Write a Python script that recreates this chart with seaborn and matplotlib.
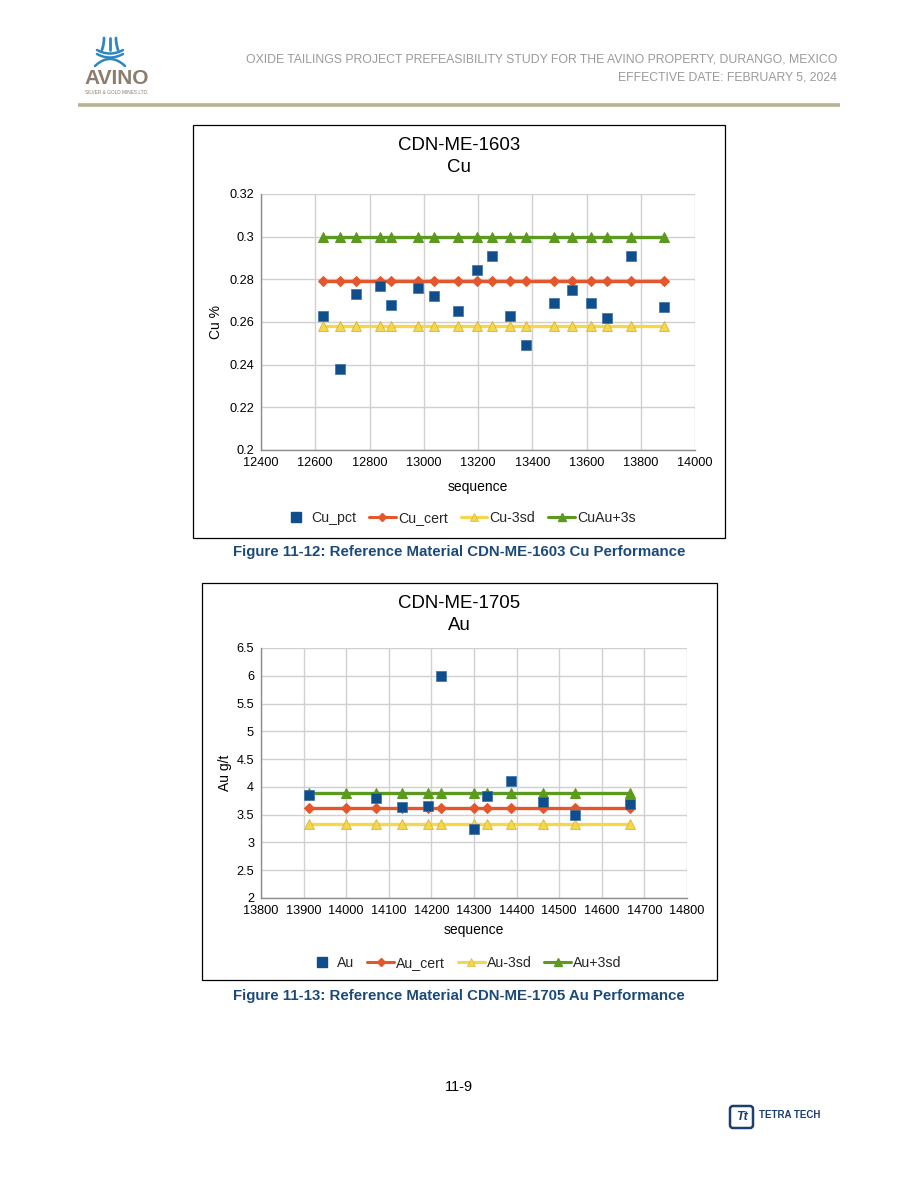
import numpy as np
import pandas as pd
import matplotlib
matplotlib.use("Agg")
import matplotlib.pyplot as plt
import seaborn as sns
from matplotlib.lines import Line2D
from matplotlib.patches import Rectangle, FancyBboxPatch

# ---------------- data ----------------
cu_seq = [12629, 12690, 12751, 12837, 12881, 12977, 13037, 13127, 13197,
          13253, 13318, 13377, 13479, 13548, 13617, 13677, 13765, 13884]
cu_pct = [0.263, 0.238, 0.273, 0.277, 0.268, 0.276, 0.272, 0.265, 0.2845,
          0.291, 0.263, 0.249, 0.269, 0.275, 0.269, 0.262, 0.291, 0.267]
cu_cert = 0.279
cu_minus3sd = 0.258
cu_plus3sd = 0.300

au_line_seq = [13913, 13999, 14070, 14132, 14192, 14223, 14299, 14331,
               14387, 14463, 14537, 14666]
au_seq = [13913, 14070, 14132, 14192, 14223, 14299, 14331, 14387, 14463,
          14537, 14666]
au_gt = [3.86, 3.80, 3.63, 3.66, 6.00, 3.24, 3.84, 4.11, 3.73, 3.49, 3.70]
au_cert = 3.62
au_minus3sd = 3.34
au_plus3sd = 3.89

cu_labels = ["Cu_pct", "Cu_cert", "Cu-3sd", "CuAu+3s"]
au_labels = ["Au", "Au_cert", "Au-3sd", "Au+3sd"]
cu_xticks = list(range(12400, 14001, 200))
cu_yticks = [0.2, 0.22, 0.24, 0.26, 0.28, 0.3, 0.32]
au_xticks = list(range(13800, 14801, 100))
au_yticks = [2, 2.5, 3, 3.5, 4, 4.5, 5, 5.5, 6, 6.5]

# ---------------- style ----------------
sns.set_style("white")
plt.rcParams['font.family'] = ['Liberation Sans', 'DejaVu Sans']

C_SQ = "#104E8B"
C_OR = "#E4562B"
C_YE = "#F5D64C"
C_YE_E = "#D8B53C"
C_GR = "#5C9A1F"
GRID = "#D0D0D0"
AXC = "#8C8C8C"

W, H = 918, 1188
fig = plt.figure(figsize=(W / 100, H / 100), dpi=100)
fig.patch.set_facecolor("white")

ov = fig.add_axes([0, 0, 1, 1], zorder=0)
ov.set_xlim(0, W)
ov.set_ylim(H, 0)
ov.axis("off")


def px_axes(x0, y0, x1, y1):
    return [x0 / W, 1 - y1 / H, (x1 - x0) / W, (y1 - y0) / H]


# ---------------- header ----------------
ov.text(837, 60, "OXIDE TAILINGS PROJECT PREFEASIBILITY STUDY FOR THE AVINO PROPERTY, DURANGO, MEXICO",
        ha="right", va="center", fontsize=8.8, color="#9A9A9A")
ov.text(837, 78, "EFFECTIVE DATE: FEBRUARY 5, 2024",
        ha="right", va="center", fontsize=8.8, color="#9A9A9A")
ov.plot([78, 840], [105, 105], color="#B8B394", lw=2.6, solid_capstyle="butt")

# AVINO logo
blue = "#2F86C0"
t = np.linspace(0, 1, 30)
for dx in (-6, 0, 6):
    ov.plot(110 + dx + dx * 0.35 * t ** 2, 38 + 12 * t, color=blue, lw=2.0)
xs = np.linspace(97, 123, 40)
for k in (0, 4):
    ov.plot(xs, 50 + k + 3.5 * (1 - ((xs - 110) / 13) ** 2), color=blue, lw=1.8)
xs2 = np.linspace(95, 125, 40)
ov.plot(xs2, 66 - 7 * (1 - ((xs2 - 110) / 15) ** 2), color=blue, lw=1.8)
ov.text(117, 78, "AVINO", ha="center", va="center", fontsize=15, color="#8C7C6C",
        fontweight="bold")
ov.text(117, 92, "SILVER & GOLD MINES LTD.", ha="center", va="center", fontsize=3.4,
        color="#8C7C6C")

# ---------------- chart boxes ----------------
ov.add_patch(Rectangle((193, 125), 532, 413, fill=False, ec="black", lw=0.9))
ov.add_patch(Rectangle((202, 583), 515, 397, fill=False, ec="black", lw=0.9))

ov.text(459, 146, "CDN-ME-1603", ha="center", va="center", fontsize=13.4, color="black")
ov.text(459, 168, "Cu", ha="center", va="center", fontsize=13.4, color="black")
ov.text(459, 604, "CDN-ME-1705", ha="center", va="center", fontsize=13.4, color="black")
ov.text(459, 625, "Au", ha="center", va="center", fontsize=13.4, color="black")

cap_col = "#1B4A7A"
ov.text(459, 552, "Figure 11-12: Reference Material CDN-ME-1603 Cu Performance",
        ha="center", va="center", fontsize=10.8, fontweight="bold", color=cap_col)
ov.text(459, 996, "Figure 11-13: Reference Material CDN-ME-1705 Au Performance",
        ha="center", va="center", fontsize=10.8, fontweight="bold", color=cap_col)

ov.text(459, 1087, "11-9", ha="center", va="center", fontsize=10.5, color="black")

# Tetra Tech logo
navy = "#1D3E6E"
ov.add_patch(FancyBboxPatch((730, 1106), 23, 22, boxstyle="round,pad=0,rounding_size=3",
                            fill=False, ec=navy, lw=1.8))
ov.text(741.5, 1117.5, "Tt", ha="center", va="center", fontsize=9, fontweight="bold",
        color=navy, style="italic")
ov.text(759, 1115, "TETRA TECH", ha="left", va="center", fontsize=7, fontweight="bold",
        color=navy)


# ---------------- plotting ----------------
def style_axes(ax, xticks, yticks, ylabels):
    ax.set_facecolor("white")
    ax.set_xticks(xticks)
    ax.set_yticks(yticks)
    ax.set_xticklabels([str(v) for v in xticks])
    ax.set_yticklabels(ylabels)
    ax.grid(True, color=GRID, lw=1.0)
    ax.set_axisbelow(True)
    for s in ("top", "right"):
        ax.spines[s].set_visible(False)
    for s in ("left", "bottom"):
        ax.spines[s].set_color(AXC)
        ax.spines[s].set_linewidth(1.0)
    ax.tick_params(axis="both", length=3, color=AXC, labelsize=9.2, pad=2,
                   labelcolor="black", direction="out")
    ax.set_xlabel("")
    ax.set_ylabel("")


def draw_chart(ax, seq_pts, vals, seq_line, cert, lo, hi):
    ldf = pd.DataFrame({"seq": seq_line, "cert": [cert] * len(seq_line),
                        "lo": [lo] * len(seq_line), "hi": [hi] * len(seq_line)})
    sns.lineplot(data=ldf, x="seq", y="hi", ax=ax, color=C_GR, lw=2.4, marker="^",
                 markersize=7, markerfacecolor=C_GR, markeredgecolor=C_GR, zorder=3)
    sns.lineplot(data=ldf, x="seq", y="lo", ax=ax, color=C_YE, lw=2.4, marker="^",
                 markersize=7, markerfacecolor=C_YE, markeredgecolor=C_YE_E,
                 markeredgewidth=0.6, zorder=3)
    sns.lineplot(data=ldf, x="seq", y="cert", ax=ax, color=C_OR, lw=2.4, marker="D",
                 markersize=5, markerfacecolor=C_OR, markeredgecolor=C_OR, zorder=4)
    pdf = pd.DataFrame({"seq": seq_pts, "val": vals})
    sns.scatterplot(data=pdf, x="seq", y="val", ax=ax, marker="s", s=60, color=C_SQ,
                    edgecolor="#3A70A8", linewidth=0.5, zorder=5)


def legend_handles(labels):
    return [
        Line2D([], [], ls="none", marker="s", markersize=6.5, color=C_SQ, label=labels[0]),
        Line2D([], [], color=C_OR, lw=2.2, marker="D", markersize=4, label=labels[1]),
        Line2D([], [], color=C_YE, lw=2.2, marker="^", markersize=5.5,
               markeredgecolor=C_YE_E, markeredgewidth=0.5, label=labels[2]),
        Line2D([], [], color=C_GR, lw=2.2, marker="^", markersize=5.5, label=labels[3]),
    ]


# Chart 1 (Cu)
ax1 = fig.add_axes(px_axes(261, 194, 695, 450), zorder=2)
draw_chart(ax1, cu_seq, cu_pct, cu_seq, cu_cert, cu_minus3sd, cu_plus3sd)
ax1.set_xlim(12400, 14000)
ax1.set_ylim(0.2, 0.32)
style_axes(ax1, cu_xticks, cu_yticks, ["0.2", "0.22", "0.24", "0.26", "0.28", "0.3", "0.32"])
ov.text(478, 487, "sequence", ha="center", va="center", fontsize=10, color="black")
ov.text(216, 322, "Cu %", ha="center", va="center", fontsize=10, rotation=90, color="black")
fig.legend(handles=legend_handles(cu_labels), loc="center",
           bbox_to_anchor=(459 / W, 1 - 518 / H), ncol=4, frameon=False, fontsize=10.2,
           handlelength=1.9, handletextpad=0.15, columnspacing=0.9)

# Chart 2 (Au)
ax2 = fig.add_axes(px_axes(261, 648, 687, 898), zorder=2)
draw_chart(ax2, au_seq, au_gt, au_line_seq, au_cert, au_minus3sd, au_plus3sd)
ax2.set_xlim(13800, 14800)
ax2.set_ylim(2, 6.5)
style_axes(ax2, au_xticks, au_yticks, ["2", "2.5", "3", "3.5", "4", "4.5", "5", "5.5", "6", "6.5"])
ov.text(474, 930, "sequence", ha="center", va="center", fontsize=10, color="black")
ov.text(225, 773, "Au g/t", ha="center", va="center", fontsize=10, rotation=90, color="black")
fig.legend(handles=legend_handles(au_labels), loc="center",
           bbox_to_anchor=(465 / W, 1 - 963 / H), ncol=4, frameon=False, fontsize=10.2,
           handlelength=1.9, handletextpad=0.15, columnspacing=0.9)

fig.savefig("out.png", dpi=100)
